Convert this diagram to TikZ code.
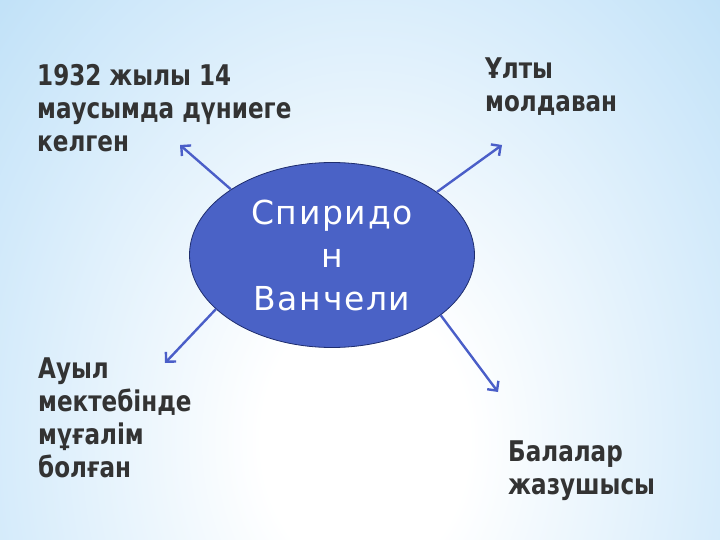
\documentclass[tikz,border=0pt]{standalone}
\usepackage{fontspec}
\setmainfont{DejaVu Sans}
\newfontfamily\labelfont[FakeStretch=0.9]{DejaVu Sans Condensed}
\usetikzlibrary{shapes.geometric,arrows.meta}
\definecolor{bgedge}{HTML}{A9D6F5}
\definecolor{bgmid}{HTML}{D9EDFB}
\definecolor{ovalfill}{HTML}{4A62C6}
\definecolor{ovaldraw}{HTML}{1E2D6E}
\definecolor{arrowcol}{HTML}{4A5EC8}
\definecolor{textcol}{HTML}{333333}
\pgfdeclareradialshading{bgshade}{\pgfpoint{0bp}{0bp}}{color(0bp)=(white);color(3bp)=(white);color(10bp)=(bgmid);color(19bp)=(bgedge);color(50bp)=(bgedge)}
\tikzset{
  oval/.style={ellipse, draw=ovaldraw, line width=0.8pt, fill=ovalfill, minimum width=285pt, minimum height=185pt, inner sep=0pt, text=white, align=center, font=\fontsize{33}{43}\selectfont\addfontfeature{LetterSpace=5}},
  factlabel/.style={anchor=base west, inner sep=0pt, align=left, text=textcol, font=\labelfont\bfseries\fontsize{28.5}{33}\selectfont},
  spoke/.style={draw=arrowcol, line width=2.4pt, -{Straight Barb[length=7pt,width=14pt]}}
}
\begin{document}
\begin{tikzpicture}[x=1pt,y=-1pt]
\useasboundingbox (0,0) rectangle (720,540);
\fill[bgedge] (0,0) rectangle (720,540);
\begin{scope}
\clip (0,0) rectangle (720,540);
\shade[shading=bgshade] (365,440) ellipse [x radius=860, y radius=1120];
\end{scope}
\node[oval] (c) at (332,255) {Спиридо\\н\\Ванчели};
\node[factlabel] (born) at (37,152) {1932 жылы 14\\маусымда дүниеге\\келген};
\node[factlabel] (nation) at (485,112) {Ұлты\\молдаван};
\node[factlabel] (teacher) at (38,477) {Ауыл\\мектебінде\\мұғалім\\болған};
\node[factlabel] (writer) at (508,494) {Балалар\\жазушысы};
\coordinate (tl) at (180,145);
\coordinate (tr) at (502,145);
\coordinate (bl) at (165,363);
\coordinate (br) at (498,392);
\draw[spoke] (c.147) -- (tl);
\draw[spoke] (c.31) -- (tr);
\draw[spoke] (c.205) -- (bl);
\draw[spoke] (c.331) -- (br);
\end{tikzpicture}
\end{document}
